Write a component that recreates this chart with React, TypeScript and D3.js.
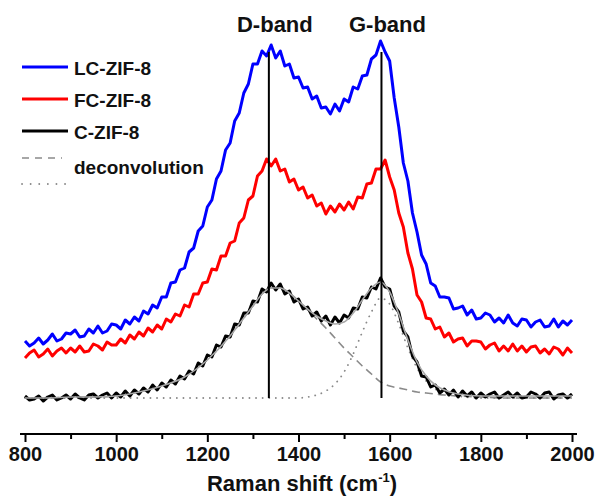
import React, { useEffect, useRef } from 'react';
import * as d3 from 'd3';

// Raman shift grid of the measured spectra (cm-1, 10 cm-1 step)
const shift = d3.range(800, 2001, 10);

// measured intensities (a.u., offset for clarity)
const lcZif8 = [
  57, 52, 55, 60, 54, 58, 64, 57, 59, 65,
  64, 68, 61, 62, 69, 65, 72, 65, 67, 74,
  73, 69, 78, 74, 81, 77, 87, 84, 93, 90,
  101, 101, 115, 116, 128, 130, 146, 150, 167, 172,
  191, 198, 219, 227, 248, 255, 277, 285, 305, 314,
  334, 334, 347, 342, 353, 340, 347, 332, 334, 320,
  321, 310, 311, 299, 302, 290, 291, 284, 294, 287,
  299, 296, 311, 309, 322, 323, 339, 343, 357, 346,
  337, 300, 271, 235, 217, 185, 166, 143, 134, 115,
  112, 101, 101, 100, 89, 90, 92, 83, 88, 79,
  80, 85, 83, 76, 80, 75, 83, 75, 72, 79,
  78, 71, 76, 78, 71, 72, 79, 71, 77, 73,
  78,
];
const fcZif8 = [
  40, 45, 48, 41, 44, 49, 42, 47, 50, 45,
  50, 46, 52, 46, 47, 54, 52, 48, 56, 53,
  53, 59, 55, 63, 59, 66, 62, 70, 66, 73,
  69, 79, 76, 84, 82, 93, 91, 104, 104, 115,
  116, 129, 128, 142, 142, 155, 157, 175, 180, 198,
  202, 222, 227, 239, 232, 239, 227, 229, 216, 219,
  208, 211, 200, 203, 192, 195, 184, 192, 186, 194,
  188, 196, 189, 201, 200, 214, 215, 229, 229, 238,
  221, 208, 185, 171, 145, 129, 103, 96, 80, 79,
  69, 71, 61, 65, 56, 59, 60, 52, 57, 57,
  56, 49, 53, 55, 47, 52, 47, 54, 47, 52,
  46, 51, 52, 45, 49, 44, 51, 49, 43, 50,
  45,
];
const cZif8 = [
  2, -2, -1, 2, -3, 1, 3, -2, 0, 3,
  -1, 4, 0, -2, 3, 4, 0, 3, 5, 0,
  5, 1, 7, 2, 8, 4, 10, 6, 13, 8,
  15, 11, 18, 14, 22, 19, 27, 24, 35, 32,
  43, 41, 53, 51, 62, 61, 74, 73, 85, 85,
  97, 96, 109, 106, 115, 108, 114, 104, 107, 96,
  99, 89, 91, 82, 86, 77, 82, 73, 81, 75,
  83, 80, 90, 89, 101, 100, 111, 109, 120, 111,
  109, 92, 86, 67, 61, 42, 36, 22, 21, 11,
  13, 5, 9, 3, 8, 1, 7, 2, 6, 0,
  5, 1, 4, 6, 0, 3, 6, 1, 5, 0,
  1, 6, 4, 0, 5, 6, -1, 3, 4, 0,
  4,
];

// deconvolution of C-ZIF-8
const fitShift = [800, 850, 900, 950, 1000, 1050, 1100, 1150, 1200, 1250, 1280, 1300, 1320, 1340, 1360, 1380, 1400,
  1420, 1440, 1460, 1480, 1500, 1520, 1540, 1560, 1580, 1600, 1620, 1640, 1660, 1680, 1700, 1720,
  1750, 1800, 1850, 1900, 1950, 2000];
const dComponent = [0, 0, 1, 1, 2, 6, 12, 21, 38, 62, 80, 92, 104, 110, 110, 105, 97,
  88, 79, 70, 60, 50, 41, 32, 24, 16, 12, 10, 8, 6, 5, 4, 3,
  2, 1, 0, 0, 0, 0];
const gComponent = [0, 0, 0, 0, 0, 0, 0, 0, 0, 0, 0, 0, 0, 0, 0, 0, 0,
  1, 3, 7, 14, 26, 44, 66, 86, 100, 94, 74, 50, 30, 17, 9, 5,
  2, 0, 0, 0, 0, 0];
const fitTotal = [0, 0, 1, 1, 2, 6, 12, 21, 38, 62, 80, 92, 104, 110, 110, 105, 97,
  89, 82, 77, 74, 76, 85, 98, 110, 116, 106, 84, 58, 36, 22, 13, 8,
  4, 2, 2, 2, 2, 2];

const bands = [
  { name: 'D-band', pos: 1335 },
  { name: 'G-band', pos: 1582 },
];
const bandLineTop = 346;

const majorTicks = [800, 1000, 1200, 1400, 1600, 1800, 2000];
const minorTicks = [900, 1100, 1300, 1500, 1700, 1900];

const series = [
  { name: 'LC-ZIF-8', values: lcZif8, color: '#0000ff' },
  { name: 'FC-ZIF-8', values: fcZif8, color: '#ff0000' },
  { name: 'C-ZIF-8', values: cZif8, color: '#000000' },
];

const FONT = '"Liberation Sans", Arial, Helvetica, sans-serif';

const App = () => {
  const svgRef = useRef<SVGSVGElement>(null);

  useEffect(() => {
    const svg = d3.select(svgRef.current);
    svg.selectAll('*').remove();

    const x = d3.scaleLinear().domain([800, 2000]).range([25, 572]);
    const y = d3.scaleLinear().domain([0, 360]).range([398, 38]);
    const axisY = 434;

    const line = d3
      .line<number>()
      .x((d, i) => x(shift[i]))
      .y((d) => y(d));
    const smooth = d3
      .line<number>()
      .x((d, i) => x(fitShift[i]))
      .y((d) => y(d))
      .curve(d3.curveMonotoneX);

    // deconvolution components (under the data)
    svg.append('path').attr('d', smooth(dComponent)).attr('fill', 'none')
      .attr('stroke', '#8a8a8a').attr('stroke-width', 1.6).attr('stroke-dasharray', '8 5');
    svg.append('path').attr('d', smooth(gComponent)).attr('fill', 'none')
      .attr('stroke', '#8a8a8a').attr('stroke-width', 1.8).attr('stroke-dasharray', '0.1 6.5')
      .attr('stroke-linecap', 'round');

    series.forEach((s) => {
      svg.append('path').attr('d', line(s.values)).attr('fill', 'none')
        .attr('stroke', s.color).attr('stroke-width', 3).attr('stroke-linejoin', 'round');
    });

    // total fit
    svg.append('path').attr('d', smooth(fitTotal)).attr('fill', 'none')
      .attr('stroke', '#a8a8a8').attr('stroke-width', 1.6);

    // band markers
    bands.forEach((b) => {
      svg.append('line').attr('x1', x(b.pos)).attr('x2', x(b.pos))
        .attr('y1', y(0)).attr('y2', y(bandLineTop))
        .attr('stroke', '#000').attr('stroke-width', 2);
      svg.append('text').attr('x', x(b.pos) + 6).attr('y', 32)
        .attr('text-anchor', 'middle').attr('font-family', FONT).attr('font-weight', 'bold')
        .attr('font-size', 22).attr('fill', '#111').text(b.name);
    });

    // x axis
    const major = svg.append('g').attr('transform', `translate(0,${axisY})`)
      .call(d3.axisBottom(x).tickValues(majorTicks).tickSize(8).tickSizeOuter(0).tickPadding(4)
        .tickFormat(d3.format('d')));
    const minor = svg.append('g').attr('transform', `translate(0,${axisY})`)
      .call(d3.axisBottom(x).tickValues(minorTicks).tickSize(5).tickSizeOuter(0).tickFormat(() => ''));
    [major, minor].forEach((g) => {
      g.select('.domain').attr('stroke-width', 2).attr('d', 'M20,0H577');
      g.selectAll('.tick line').attr('stroke-width', 2);
    });
    major.selectAll('.tick text').attr('font-family', FONT).attr('font-weight', 'bold')
      .attr('font-size', 20).attr('fill', '#111').attr('dy', '0.76em');

    const title = svg.append('text').attr('x', 302).attr('y', 491).attr('text-anchor', 'middle')
      .attr('font-family', FONT).attr('font-weight', 'bold').attr('font-size', 22).attr('fill', '#111');
    title.append('tspan').text('Raman shift (cm');
    title.append('tspan').attr('font-size', 13).attr('dy', -9).text('-1');
    title.append('tspan').attr('dy', 9).text(')');

    // legend
    const legend = svg.append('g');
    series.forEach((s, i) => {
      const ly = 67 + i * 32;
      legend.append('line').attr('x1', 22).attr('x2', 68).attr('y1', ly).attr('y2', ly)
        .attr('stroke', s.color).attr('stroke-width', 3);
      legend.append('text').attr('x', 74).attr('y', ly + 8).attr('font-family', FONT)
        .attr('font-weight', 'bold').attr('font-size', 19).attr('fill', '#111').text(s.name);
    });
    legend.append('line').attr('x1', 22).attr('x2', 62).attr('y1', 158).attr('y2', 158)
      .attr('stroke', '#8a8a8a').attr('stroke-width', 1.6).attr('stroke-dasharray', '7 6');
    legend.append('line').attr('x1', 22).attr('x2', 70).attr('y1', 184).attr('y2', 184)
      .attr('stroke', '#8a8a8a').attr('stroke-width', 1.8).attr('stroke-dasharray', '0.1 8.5')
      .attr('stroke-linecap', 'round');
    legend.append('text').attr('x', 74).attr('y', 174).attr('font-family', FONT)
      .attr('font-weight', 'bold').attr('font-size', 19).attr('fill', '#111').text('deconvolution');
  }, []);

  return (
    <svg
      ref={svgRef}
      width={598}
      height={499}
      style={{ position: 'absolute', left: 0, top: 0, background: '#fff' }}
    />
  );
};

export default App;
